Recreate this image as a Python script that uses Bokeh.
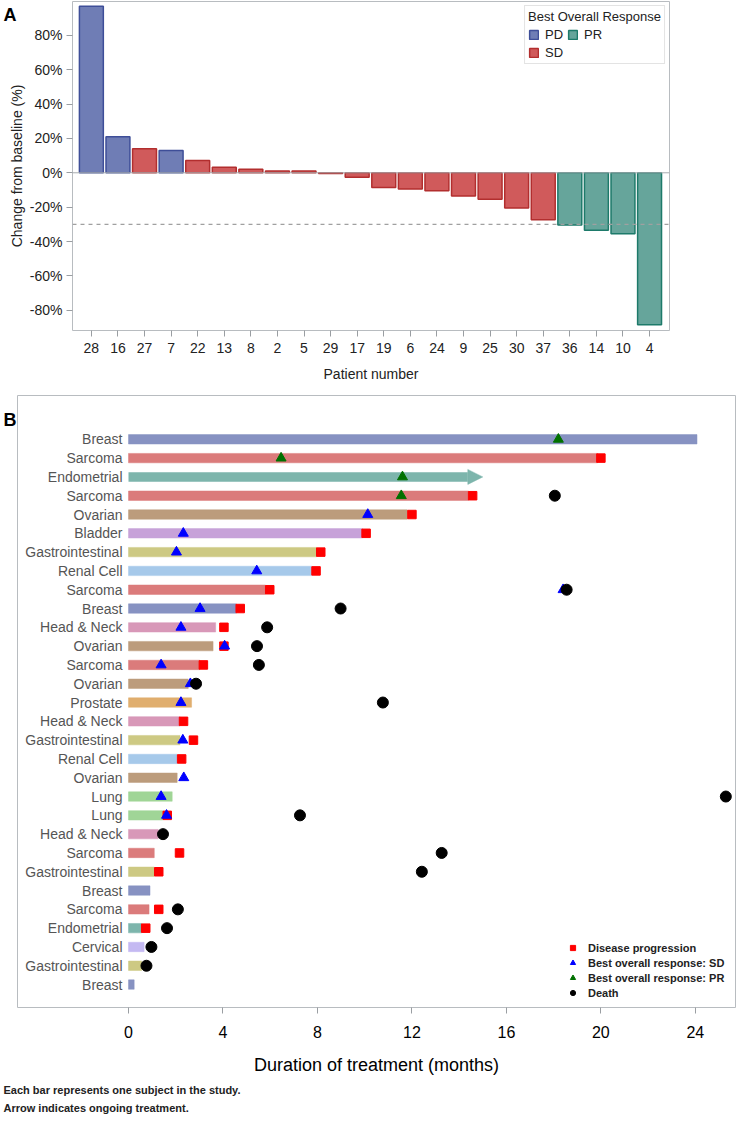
import math
from bokeh.plotting import figure
from bokeh.models import (Range1d, FixedTicker, Span, Legend, LegendItem, LinearAxis, Title,
                          Arrow, NormalHead, ColumnDataSource)
from bokeh.embed import file_html
from bokeh.resources import INLINE
from bokeh.core.properties import value

NAN = float("nan")

# ---------------- Panel A data ----------------
patients = [28, 16, 27, 7, 22, 13, 8, 2, 5, 29, 17, 19, 6, 24, 9, 25, 30, 37, 36, 14, 10, 4]
change_pct = [97, 21, 14, 13, 7.1, 3.2, 2.0, 1.1, 1.1, -0.4, -2.6, -8.6, -9.4, -10.5,
              -13.5, -15.4, -20.5, -27.4, -30.4, -33.4, -35.5, -88.5]
best_resp = ["PD", "PD", "SD", "PD", "SD", "SD", "SD", "SD", "SD", "SD", "SD", "SD",
             "SD", "SD", "SD", "SD", "SD", "SD", "PR", "PR", "PR", "PR"]
y_ticks_a = [-80, -60, -40, -20, 0, 20, 40, 60, 80]
threshold = -30

# ---------------- Panel B data ----------------
cancers = ["Breast", "Sarcoma", "Endometrial", "Sarcoma", "Ovarian", "Bladder",
           "Gastrointestinal", "Renal Cell", "Sarcoma", "Breast", "Head & Neck", "Ovarian",
           "Sarcoma", "Ovarian", "Prostate", "Head & Neck", "Gastrointestinal", "Renal Cell",
           "Ovarian", "Lung", "Lung", "Head & Neck", "Sarcoma", "Gastrointestinal", "Breast",
           "Sarcoma", "Endometrial", "Cervical", "Gastrointestinal", "Breast"]
duration = [24.07, 19.86, 15.0, 14.4, 11.8, 9.9, 7.97, 7.76, 5.8, 4.56, 3.69, 3.58,
            3.02, 2.53, 2.67, 2.18, 2.18, 2.06, 2.06, 1.85, 1.45, 1.26, 1.09, 1.09, 0.91,
            0.87, 0.56, 0.66, 0.56, 0.24]
ongoing = [False, False, True] + [False] * 27
progression = [NAN, 20.0, NAN, 14.57, 12.0, 10.06, 8.14, 7.94, 5.98, 4.73, 4.04, 4.04,
               3.17, NAN, NAN, 2.33, 2.75, 2.25, NAN, NAN, 1.64, NAN, 2.16, 1.28, NAN,
               1.28, 0.73, NAN, NAN, NAN]
resp_sd = [NAN, NAN, NAN, NAN, 10.13, 2.32, 2.03, 5.43, 18.4, 3.03, 2.22, 4.07,
           1.38, 2.62, 2.22, NAN, 2.3, NAN, 2.34, 1.38, 1.61, NAN, NAN, NAN, NAN,
           NAN, NAN, NAN, NAN, NAN]
resp_pr = [18.2, 6.46, 11.6, 11.55] + [NAN] * 26
death = [NAN, NAN, NAN, 18.05, NAN, NAN, NAN, NAN, 18.55, 8.98, 5.87, 5.44,
         5.52, 2.86, 10.77, NAN, NAN, NAN, NAN, 25.29, 7.26, 1.46, 13.26, 12.42, NAN,
         2.09, 1.63, 0.97, 0.76, NAN]
x_ticks_b = [0, 4, 8, 12, 16, 20, 24]
footnotes = ["Each bar represents one subject in the study.", "Arrow indicates ongoing treatment."]

cancer_colors = {
    "Breast": "#8792C2", "Sarcoma": "#DB7B7B", "Endometrial": "#7DB5AC",
    "Ovarian": "#BC9C7C", "Bladder": "#C7A2D9", "Gastrointestinal": "#CDC983",
    "Renal Cell": "#A6C9EA", "Head & Neck": "#D898B8", "Prostate": "#E0AE6E",
    "Lung": "#A0D597", "Cervical": "#C4B9F2",
}
resp_fill = {"PD": "#6F7DB5", "SD": "#D05A5B", "PR": "#66A59B"}
resp_line = {"PD": "#3E4E98", "SD": "#B22E2E", "PR": "#1D7A6A"}

FRAME = "#B8BCC0"
FONT = "Liberation Sans"


def panel_letter_axis(fig, letter, pos, standoff):
    ax = LinearAxis(ticker=FixedTicker(ticks=[pos]), major_label_overrides={pos: letter})
    ax.axis_line_color = None
    ax.major_tick_line_color = None
    ax.major_tick_out = 0
    ax.major_tick_in = 0
    ax.minor_tick_line_color = None
    ax.major_label_standoff = standoff
    ax.major_label_text_font = FONT
    ax.major_label_text_font_style = "bold"
    ax.major_label_text_font_size = "18px"
    ax.major_label_text_color = "black"
    fig.add_layout(ax, "left")


# =============== Panel A ===============
pA = figure(width=736, height=386, x_range=Range1d(-0.71, 21.75), y_range=Range1d(-91.8, 99.7),
            output_backend="svg", toolbar_location=None,
            min_border_left=70, min_border_right=67, min_border_top=1, min_border_bottom=56)
pA.xgrid.visible = False
pA.ygrid.visible = False
pA.outline_line_color = FRAME

pA.add_layout(Span(location=0, dimension="width", line_color="#A8ACB0", line_width=1))
pA.add_layout(Span(location=threshold, dimension="width", line_color="#A0A0A0",
                   line_width=1.2, line_dash="4 4"))

items = {}
for cat in ["PD", "SD", "PR"]:
    idx = [i for i, r in enumerate(best_resp) if r == cat]
    src = ColumnDataSource(dict(x=idx, top=[change_pct[i] for i in idx]))
    items[cat] = pA.vbar(x="x", top="top", bottom=0, width=0.9, source=src,
                         fill_color=resp_fill[cat], line_color=resp_line[cat], line_width=1.5)

legA = Legend(items=[LegendItem(label="PD", renderers=[items["PD"]]),
                     LegendItem(label="SD", renderers=[items["SD"]]),
                     LegendItem(label="PR", renderers=[items["PR"]])],
              title="Best Overall Response", ncols=2, location="top_right")
legA.margin = 4
legA.padding = 3
legA.spacing = 2
legA.title_text_font = FONT
legA.title_text_font_size = "13px"
legA.title_text_font_style = "normal"
legA.title_text_color = "#222222"
legA.title_standoff = 2
legA.label_text_font = FONT
legA.label_text_font_size = "13px"
legA.label_text_color = "#222222"
legA.glyph_width = 11
legA.glyph_height = 11
legA.label_height = 16
legA.label_standoff = 6
legA.border_line_color = "#C8C8C8"
legA.background_fill_color = "white"
pA.add_layout(legA)

pA.xaxis.ticker = FixedTicker(ticks=list(range(len(patients))))
pA.xaxis.major_label_overrides = {i: str(p) for i, p in enumerate(patients)}
pA.yaxis.ticker = FixedTicker(ticks=y_ticks_a)
pA.yaxis.major_label_overrides = {t: f"{t}%" for t in y_ticks_a}
for ax in (pA.xaxis[0], pA.yaxis[0]):
    ax.axis_line_color = None
    ax.major_tick_line_color = "#9A9EA2"
    ax.major_tick_out = 6
    ax.major_tick_in = 0
    ax.minor_tick_line_color = None
    ax.major_label_text_font = FONT
    ax.major_label_text_font_size = "14px"
    ax.major_label_text_color = "#222222"
    ax.axis_label_text_font = FONT
    ax.axis_label_text_font_size = "14px"
    ax.axis_label_text_font_style = "normal"
    ax.axis_label_text_color = "#222222"
pA.xaxis.axis_label = "Patient number"
pA.xaxis.major_label_standoff = 6
pA.xaxis.axis_label_standoff = 10
pA.yaxis.axis_label = "Change from baseline (%)"
pA.yaxis.major_label_standoff = 4
pA.yaxis.axis_label_standoff = 2
panel_letter_axis(pA, "A", 92, -11)

# =============== Panel B ===============
rows = list(range(1, len(cancers) + 1))
pB = figure(width=736, height=731, x_range=Range1d(-4.70, 25.7), y_range=Range1d(31.22, -1.33),
            output_backend="svg", toolbar_location=None,
            min_border_left=14, min_border_right=1, min_border_top=9, min_border_bottom=110)
pB.xgrid.visible = False
pB.ygrid.visible = False
pB.yaxis.visible = False
pB.outline_line_color = FRAME

bar_rows = [r for r, o in zip(rows, ongoing) if not o]
srcB = ColumnDataSource(dict(
    y=bar_rows,
    right=[duration[r - 1] for r in bar_rows],
    color=[cancer_colors[cancers[r - 1]] for r in bar_rows],
))
pB.hbar(y="y", left=0, right="right", height=0.5, source=srcB,
        fill_color="color", line_color="color", line_width=0.5)

for r, o in zip(rows, ongoing):
    if o:
        c = cancer_colors[cancers[r - 1]]
        pB.add_layout(Arrow(x_start=0, y_start=r, x_end=duration[r - 1], y_end=r,
                            line_color=c, line_width=9.5, line_cap="butt", level="underlay",
                            end=NormalHead(size=15, fill_color=c, line_color=c, line_width=0.5)))

pB.text(x=0, y=rows, text=cancers, x_offset=-6, text_align="right", text_baseline="middle",
        text_font=value(FONT), text_font_size="14px", text_color="#555555")

r_pd = pB.scatter(x=progression, y=rows, marker="square", size=8.5, fill_color="#FF0000",
                  line_color="#FF0000")
r_sd = pB.scatter(x=resp_sd, y=rows, marker="triangle", size=10, fill_color="#0000FF",
                  line_color="#0000FF")
r_pr = pB.scatter(x=resp_pr, y=rows, marker="triangle", size=10, fill_color="#007000",
                  line_color="#007000")
r_dt = pB.scatter(x=death, y=rows, marker="circle", size=11, fill_color="black",
                  line_color="black")

legB = Legend(items=[LegendItem(label="Disease progression", renderers=[r_pd]),
                     LegendItem(label="Best overall response: SD", renderers=[r_sd]),
                     LegendItem(label="Best overall response: PR", renderers=[r_pr]),
                     LegendItem(label="Death", renderers=[r_dt])],
              location=(549, 8))
legB.padding = 0
legB.spacing = 2
legB.glyph_width = 13
legB.glyph_height = 13
legB.label_height = 13
legB.label_standoff = 9
legB.label_text_font = FONT
legB.label_text_font_style = "bold"
legB.label_text_font_size = "11px"
legB.label_text_color = "#222222"
legB.border_line_color = None
legB.background_fill_alpha = 0
pB.add_layout(legB)

axB = pB.xaxis[0]
axB.ticker = FixedTicker(ticks=x_ticks_b)
axB.axis_line_color = None
axB.major_tick_line_color = "#9A9EA2"
axB.major_tick_out = 6
axB.major_tick_in = 0
axB.minor_tick_line_color = None
axB.major_label_text_font = FONT
axB.major_label_text_font_size = "16px"
axB.major_label_text_color = "black"
axB.major_label_standoff = 12
axB.axis_label = "Duration of treatment (months)"
axB.axis_label_text_font = FONT
axB.axis_label_text_font_size = "18px"
axB.axis_label_text_font_style = "normal"
axB.axis_label_text_color = "black"
axB.axis_label_standoff = 14

panel_letter_axis(pB, "B", -0.05, 1)

for i, note in enumerate(footnotes):
    t = Title(text=note, align="left", offset=-14, standoff=(8 if i == 0 else 1),
              text_font=FONT, text_font_style="bold", text_font_size="11px",
              text_color="#222222")
    pB.add_layout(t, "below")

open("out.html", "w").write(file_html([pA, pB], INLINE))
